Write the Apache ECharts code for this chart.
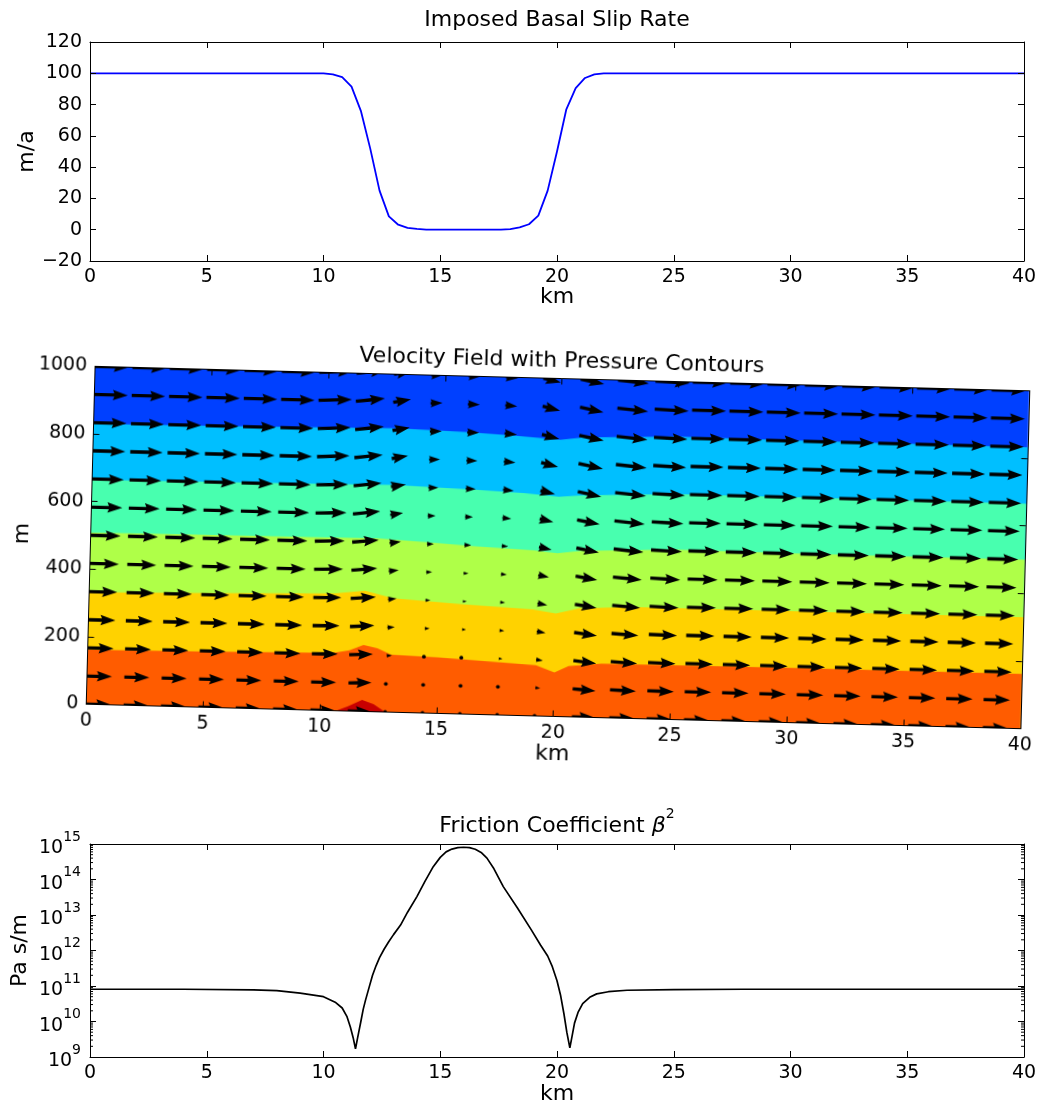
<!DOCTYPE html>
<html>
<head>
<meta charset="utf-8">
<title>Basal slip, velocity field and friction</title>
<script src="https://cdn.jsdelivr.net/npm/echarts@6/dist/echarts.min.js"></script>
<style>
  html, body { margin: 0; padding: 0; background: #fff; width: 1042px; height: 1110px; overflow: hidden; }
  .panel { position: absolute; left: 0; width: 1042px; }
  #slip { top: 0; height: 320px; }
  #fric { top: 780px; height: 330px; }
  /* the velocity panel is drawn tilted by 1.5 degrees about its plot centre */
  #vel { top: 300px; height: 500px; transform-origin: 557.7px 247.5px; transform: rotate(1.5deg); }
</style>
</head>
<body>
<div id="slip" class="panel"></div>
<div id="fric" class="panel"></div>
<div id="vel" class="panel"></div>
<script>
// ---------- imposed basal slip rate (m/a) ----------
const slipX = [0, 9.6, 10.0, 10.4, 10.8, 11.2, 11.6, 12.0, 12.4, 12.8, 13.2, 13.6, 14.0, 14.4, 15.0,
               17.0, 17.6, 18.0, 18.4, 18.8, 19.2, 19.6, 20.0, 20.4, 20.8, 21.2, 21.6, 22.0, 22.4, 40];
const slipV = [100, 100, 99.9, 99.3, 97.5, 91.5, 76, 52, 25, 8.5, 3.2, 1.2, 0.5, 0.1, 0,
               0, 0.1, 0.4, 1.5, 3.5, 9, 25, 50, 77, 90.5, 97, 99.3, 99.9, 100, 100];

// ---------- friction coefficient beta^2 (Pa s/m) ----------
const fricX = [0, 4, 7, 8, 9, 10, 10.5, 10.8, 11.0, 11.15, 11.27, 11.37, 11.45, 11.6, 11.7, 11.8, 11.95,
               12.1, 12.25, 12.4, 12.6, 12.8, 13.0, 13.3, 13.6, 14.0, 14.35, 14.7, 15.0, 15.25, 15.5,
               15.75, 16.0, 16.25, 16.5, 16.75, 17.0, 17.3, 17.7, 18.3, 18.9, 19.3, 19.6, 19.8, 20.0,
               20.15, 20.3, 20.42, 20.55, 20.65, 20.75, 20.9, 21.1, 21.4, 21.7, 22.2, 23, 25, 28, 40];
const fricV = [8.1e10, 8.1e10, 7.8e10, 7.4e10, 6.3e10, 5e10, 3.5e10, 2.4e10, 1.4e10, 7e9, 3.5e9, 1.7e9,
               3.2e9, 1e10, 2.2e10, 4e10, 9e10,
               2e11, 3.7e11, 6.3e11, 1.1e12, 1.8e12, 2.8e12, 5.2e12, 1.2e13, 3.3e13, 9e13, 2.3e14, 4.2e14,
               6e14, 7.2e14, 7.9e14, 8.1e14, 7.9e14, 7.1e14, 5.8e14, 4e14, 2e14, 6.3e13, 1.6e13, 3.8e12,
               1.4e12, 7e11, 3.5e11, 1.4e11, 5.6e10, 1.6e10, 5e9, 1.8e9, 4e9, 9e9, 1.8e10, 3.2e10, 4.8e10,
               6e10, 6.9e10, 7.6e10, 7.9e10, 8.1e10, 8.1e10];

// ---------- pressure contour boundaries [km, m] (top of each filled band) ----------
const bandTop    = [[0, 1000], [40, 1000]];
const bandA = [[0, 830], [5, 833], [10, 837], [13, 840], [16, 834], [18, 828], [20, 819], [21, 828], [25, 837], [30, 835], [40, 833]];
const bandB = [[0, 664], [5, 667], [10, 670], [13, 672], [16.5, 664], [18.5, 658], [20, 650], [21, 656], [25, 667], [30, 667], [40, 666]];
const bandC = [[0, 508], [5, 510], [10, 512], [12.2, 513], [14.5, 505], [16.5, 497], [19, 490], [20, 483], [21, 492], [25, 503], [30, 501], [40, 500]];
const bandD = [[0, 331], [5, 338], [10.5, 347], [11.8, 357], [13, 337], [16, 325], [19, 315], [20, 305], [21, 322], [23.3, 330], [30, 330], [40, 330]];
const bandE = [[0, 161], [5, 165], [10.5, 171], [11.2, 180], [11.8, 197], [12.4, 188], [13, 170], [15, 166], [17, 158], [19.2, 150], [20, 130], [20.6, 150], [22, 160], [30, 162], [40, 162]];
const bandF = [[10.7, 0], [11.2, 14], [11.8, 34], [12.3, 22], [12.8, 0]];
const bandColors = ['#0040ff', '#00bfff', '#48ffaf', '#afff48', '#ffd200', '#ff5c00', '#c80000'];

// ---------- velocity field (quiver) ----------
const arrowX = [0, 1.6, 3.2, 4.8, 6.4, 8.0, 9.6, 11.2, 12.8, 14.4, 16.0, 17.6, 19.2, 20.8, 22.4,
                24.0, 25.6, 27.2, 28.8, 30.4, 32.0, 33.6, 35.2, 36.8, 38.4];
const arrowY = [0, 83.3, 166.7, 250, 333.3, 416.7, 500, 583.3, 666.7, 750, 833.3, 916.7, 1000];
// speed (m/a), one row per height, one entry per column
const speedRows = [
  [100,100,100,100,100,100,100, 92,  9,  0,  0,  0,  8, 90,100,100,100,100,100,100,100,100,100,100,100],
  [100,100,100,100,100,100,100, 92, 12,  8,  8,  8, 20, 92,104,106,106,106,106,106,106,106,106,106,106],
  [104,104,104,104,104,104,104, 95, 22, 12, 12, 16, 28, 92,106,110,110,110,110,110,110,110,110,110,110],
  [108,108,108,108,108,108,108, 98, 30, 20, 16, 20, 36, 92,108,113,113,113,113,113,113,113,113,113,113],
  [112,112,112,112,112,112,112,101, 34, 20, 16, 20, 40, 88,112,116,116,116,116,116,116,116,116,116,116],
  [116,116,116,116,116,116,116,104, 40, 24, 20, 24, 44, 88,116,120,120,120,120,120,120,120,120,120,120],
  [120,120,120,120,120,120,120,107, 46, 28, 28, 27, 52, 92,120,124,124,124,124,124,124,124,124,124,124],
  [124,124,124,124,124,124,124,110, 52, 32, 32, 36, 56, 92,122,127,127,127,127,127,127,127,127,127,127],
  [127,127,127,127,127,127,127,112, 60, 40, 40, 43, 60, 96,124,130,130,130,130,130,130,130,130,130,130],
  [130,130,130,130,130,130,130,114, 66, 44, 44, 47, 70,100,124,132,132,132,132,132,132,132,132,132,132],
  [132,132,132,132,132,132,132,116, 70, 48, 48, 50, 72,100,124,134,134,134,134,134,134,134,134,134,134],
  [134,134,134,134,134,134,134,117, 72, 48, 48, 48, 72, 96,124,136,136,136,136,136,136,136,136,136,136],
  [135,135,135,135,135,135,135,118, 72, 48, 48, 48, 72, 96,124,138,138,138,138,138,138,138,138,138,138]
];
// flow direction (degrees above horizontal)
const angleRows = [
  [0,0,0,0,0,0,0, 0, 0, 0, 0,  0,  0,  0,  0,  0, 0,0,0,0,0,0,0,0,0],
  [0,0,0,0,0,0,0, 2, 3, 1, 0, -1, -4, -4, -2, -1, 0,0,0,0,0,0,0,0,0],
  [0,0,0,0,0,0,1, 3, 5, 2, 0, -2, -6, -6, -3, -1, 0,0,0,0,0,0,0,0,0],
  [0,0,0,0,0,0,1, 4, 6, 2, 0, -2, -8, -7, -3, -1, 0,0,0,0,0,0,0,0,0],
  [0,0,0,0,0,0,1, 5, 7, 3, 0, -3, -9, -8, -4, -2, 0,0,0,0,0,0,0,0,0],
  [0,0,0,0,0,0,2, 6, 8, 3, 0, -3,-10, -9, -4, -2, 0,0,0,0,0,0,0,0,0],
  [0,0,0,0,0,0,2, 6, 9, 3, 0, -3,-11,-10, -5, -2, 0,0,0,0,0,0,0,0,0],
  [0,0,0,0,0,0,2, 7,10, 3, 0, -4,-12,-10, -5, -2, 0,0,0,0,0,0,0,0,0],
  [0,0,0,0,0,0,2, 7,10, 3, 0, -4,-12,-11, -5, -2, 0,0,0,0,0,0,0,0,0],
  [0,0,0,0,0,0,3, 7,11, 3, 0, -4,-13,-11, -5, -2, 0,0,0,0,0,0,0,0,0],
  [0,0,0,0,0,0,3, 7,11, 3, 0, -4,-13,-11, -5, -2, 0,0,0,0,0,0,0,0,0],
  [0,0,0,0,0,0,3, 7,11, 3, 0, -4,-13,-11, -5, -2, 0,0,0,0,0,0,0,0,0],
  [0,0,0,0,0,0,3, 7,11, 3, 0, -4,-13,-11, -5, -2, 0,0,0,0,0,0,0,0,0]
];

// ---------- styling ----------
const FONT = 'DejaVu Sans';
const INK = '#000';
const TICK_FS = 19;
const NAME_FS = 22;
const TITLE_FS = 22;

// quiver glyph geometry (px), matplotlib-like proportions
const ARROW_SCALE = 0.25;   // px per m/a
const W = 3.4, HW = 10.5, HL = 15, HAL = 13.5;

function plainNumber(v) { return v < 0 ? '\u2212' + Math.abs(v) : String(v); }

function xPair(name, nameGap) {
  const base = {
    type: 'value', min: 0, max: 40, interval: 5, z: 10,
    axisLine: { show: true, onZero: false, lineStyle: { color: INK, width: 1 } },
    axisTick: { show: true, inside: true, length: 6, lineStyle: { color: INK, width: 1 } },
    splitLine: { show: false }
  };
  return [
    Object.assign({}, base, {
      position: 'bottom',
      axisLabel: { show: true, margin: 7, color: INK, fontFamily: FONT, fontSize: TICK_FS },
      name: name, nameLocation: 'middle', nameGap: nameGap, nameMoveOverlap: false,
      nameTextStyle: { color: INK, fontFamily: FONT, fontSize: NAME_FS }
    }),
    Object.assign({}, base, { position: 'top', axisLabel: { show: false } })
  ];
}

function yPair(extra, label, name, nameGap) {
  const base = Object.assign({
    z: 10,
    axisLine: { show: true, onZero: false, lineStyle: { color: INK, width: 1 } },
    axisTick: { show: true, inside: true, length: 6, lineStyle: { color: INK, width: 1 } },
    splitLine: { show: false }
  }, extra);
  return [
    Object.assign({}, base, {
      position: 'left', axisLabel: label,
      name: name, nameLocation: 'middle', nameGap: nameGap, nameRotate: 90, nameMoveOverlap: false,
      nameTextStyle: { color: INK, fontFamily: FONT, fontSize: NAME_FS }
    }),
    Object.assign({}, base, { position: 'right', axisLabel: { show: false } })
  ];
}

function titleText(x, y, text, rich) {
  const style = { text: text, x: 0, y: 0, fill: INK, align: 'center', verticalAlign: 'middle',
                  fontFamily: FONT, fontSize: TITLE_FS };
  if (rich) style.rich = rich;
  return { type: 'text', x: x, y: y, style: style, z: 20 };
}

// ---------- panel 1: slip rate ----------
const slipChart = echarts.init(document.getElementById('slip'), null, { renderer: 'canvas' });
slipChart.setOption({
  animation: false,
  backgroundColor: 'transparent',
  grid: { left: 90, top: 42, width: 934, height: 219, containLabel: false, outerBoundsMode: 'none' },
  xAxis: xPair('km', 25),
  yAxis: yPair({ type: 'value', min: -20, max: 120, interval: 20 },
    { show: true, margin: 8, color: INK, fontFamily: FONT, fontSize: TICK_FS, formatter: plainNumber },
    'm/a', 52),
  graphic: [titleText(557, 20, 'Imposed Basal Slip Rate')],
  series: [{
    type: 'line', xAxisIndex: 0, yAxisIndex: 0,
    data: slipX.map((x, i) => [x, slipV[i]]),
    showSymbol: false, symbol: 'none', smooth: false, silent: true,
    lineStyle: { color: '#0000ff', width: 1.8 }
  }]
});

// ---------- panel 3: friction coefficient ----------
const minorTicks = [];
for (let e = 9; e < 15; e++) for (let m = 2; m <= 9; m++) minorTicks.push(m * Math.pow(10, e));

const fricChart = echarts.init(document.getElementById('fric'), null, { renderer: 'canvas' });
fricChart.setOption({
  animation: false,
  backgroundColor: 'transparent',
  grid: { left: 90, top: 64, width: 934, height: 213, containLabel: false, outerBoundsMode: 'none' },
  xAxis: xPair('km', 26),
  yAxis: yPair({ type: 'log', logBase: 10, min: 1e9, max: 1e15, splitNumber: 6 },
    {
      show: true, margin: 9, color: INK, fontFamily: FONT,
      formatter: v => '{b|10}{e|' + Math.round(Math.log10(v)) + '}',
      rich: {
        b: { fontFamily: FONT, fontSize: TICK_FS, color: INK, lineHeight: 28, verticalAlign: 'bottom' },
        e: { fontFamily: FONT, fontSize: 14, color: INK, verticalAlign: 'top' }
      }
    },
    'Pa s/m', 59),
  graphic: [titleText(557, 42, '{t|Friction Coefficient }{g|\u03b2}{s|2}', {
    t: { fontFamily: FONT, fontSize: TITLE_FS, color: INK, lineHeight: 30, verticalAlign: 'bottom' },
    g: { fontFamily: FONT, fontSize: TITLE_FS, fontStyle: 'italic', color: INK, lineHeight: 30, verticalAlign: 'bottom' },
    s: { fontFamily: FONT, fontSize: 14, color: INK, verticalAlign: 'top' }
  })],
  series: [{
    type: 'line', xAxisIndex: 0, yAxisIndex: 0,
    data: fricX.map((x, i) => [x, fricV[i]]),
    showSymbol: false, symbol: 'none', smooth: false, silent: true,
    lineStyle: { color: '#000', width: 1.7 }
  }, {
    // minor log ticks on both vertical frame edges
    type: 'custom', xAxisIndex: 0, yAxisIndex: 0, silent: true, z: 12,
    data: minorTicks.map(v => [0, v]),
    encode: { x: 0, y: 1 },
    renderItem: (params, api) => {
      const cs = params.coordSys;
      const y = api.coord([0, api.value(1)])[1];
      return { type: 'group', children: [
        { type: 'line', shape: { x1: cs.x, y1: y, x2: cs.x + 3, y2: y }, style: { stroke: INK, lineWidth: 1 } },
        { type: 'line', shape: { x1: cs.x + cs.width, y1: y, x2: cs.x + cs.width - 3, y2: y }, style: { stroke: INK, lineWidth: 1 } }
      ] };
    }
  }]
});

// ---------- panel 2: velocity field with pressure contours ----------
function bandSeries(data, color) {
  return {
    type: 'line', xAxisIndex: 0, yAxisIndex: 0, data: data,
    showSymbol: false, symbol: 'none', smooth: false, silent: true,
    lineStyle: { width: 0, color: color },
    areaStyle: { color: color, opacity: 1, origin: 'start' }
  };
}

const quiverData = [];
arrowY.forEach((y, k) => {
  arrowX.forEach((x, c) => {
    quiverData.push([x, y, speedRows[k][c], angleRows[k][c]]);
  });
});

function arrowItem(params, api) {
  const cs = params.coordSys;
  const p = api.coord([api.value(0), api.value(1)]);
  const len = api.value(2) * ARROW_SCALE;
  const a = api.value(3) * Math.PI / 180;
  const clip = { type: 'rect', shape: { x: cs.x, y: cs.y, width: cs.width, height: cs.height } };
  if (len < W) {
    return { type: 'circle', shape: { cx: p[0], cy: p[1], r: 1.9 }, style: { fill: INK }, clipPath: clip };
  }
  const Lp = Math.max(len, HL);
  const s = len / Lp;
  const local = [[0, -W / 2], [Lp - HAL, -W / 2], [Lp - HL, -HW / 2], [Lp, 0],
                 [Lp - HL, HW / 2], [Lp - HAL, W / 2], [0, W / 2]];
  const ca = Math.cos(a), sa = Math.sin(a);
  const pts = local.map(([lx, ly]) => [p[0] + s * (lx * ca + ly * sa), p[1] + s * (-lx * sa + ly * ca)]);
  return { type: 'polygon', shape: { points: pts }, style: { fill: INK }, clipPath: clip };
}

const velChart = echarts.init(document.getElementById('vel'), null, { renderer: 'canvas' });
velChart.setOption({
  animation: false,
  backgroundColor: 'transparent',
  grid: { left: 90.5, top: 78.5, width: 934.3, height: 338, containLabel: false, outerBoundsMode: 'none' },
  xAxis: xPair('km', 27),
  yAxis: yPair({ type: 'value', min: 0, max: 1000, interval: 200 },
    { show: true, margin: 8, color: INK, fontFamily: FONT, fontSize: TICK_FS, formatter: plainNumber },
    'm', 57),
  graphic: [titleText(557, 61, 'Velocity Field with Pressure Contours')],
  series: [
    bandSeries(bandTop, bandColors[0]),
    bandSeries(bandA, bandColors[1]),
    bandSeries(bandB, bandColors[2]),
    bandSeries(bandC, bandColors[3]),
    bandSeries(bandD, bandColors[4]),
    bandSeries(bandE, bandColors[5]),
    bandSeries(bandF, bandColors[6]),
    {
      type: 'custom', xAxisIndex: 0, yAxisIndex: 0, silent: true, clip: true, z: 5,
      data: quiverData, encode: { x: 0, y: 1 },
      renderItem: arrowItem
    }
  ]
});
</script>
</body>
</html>
